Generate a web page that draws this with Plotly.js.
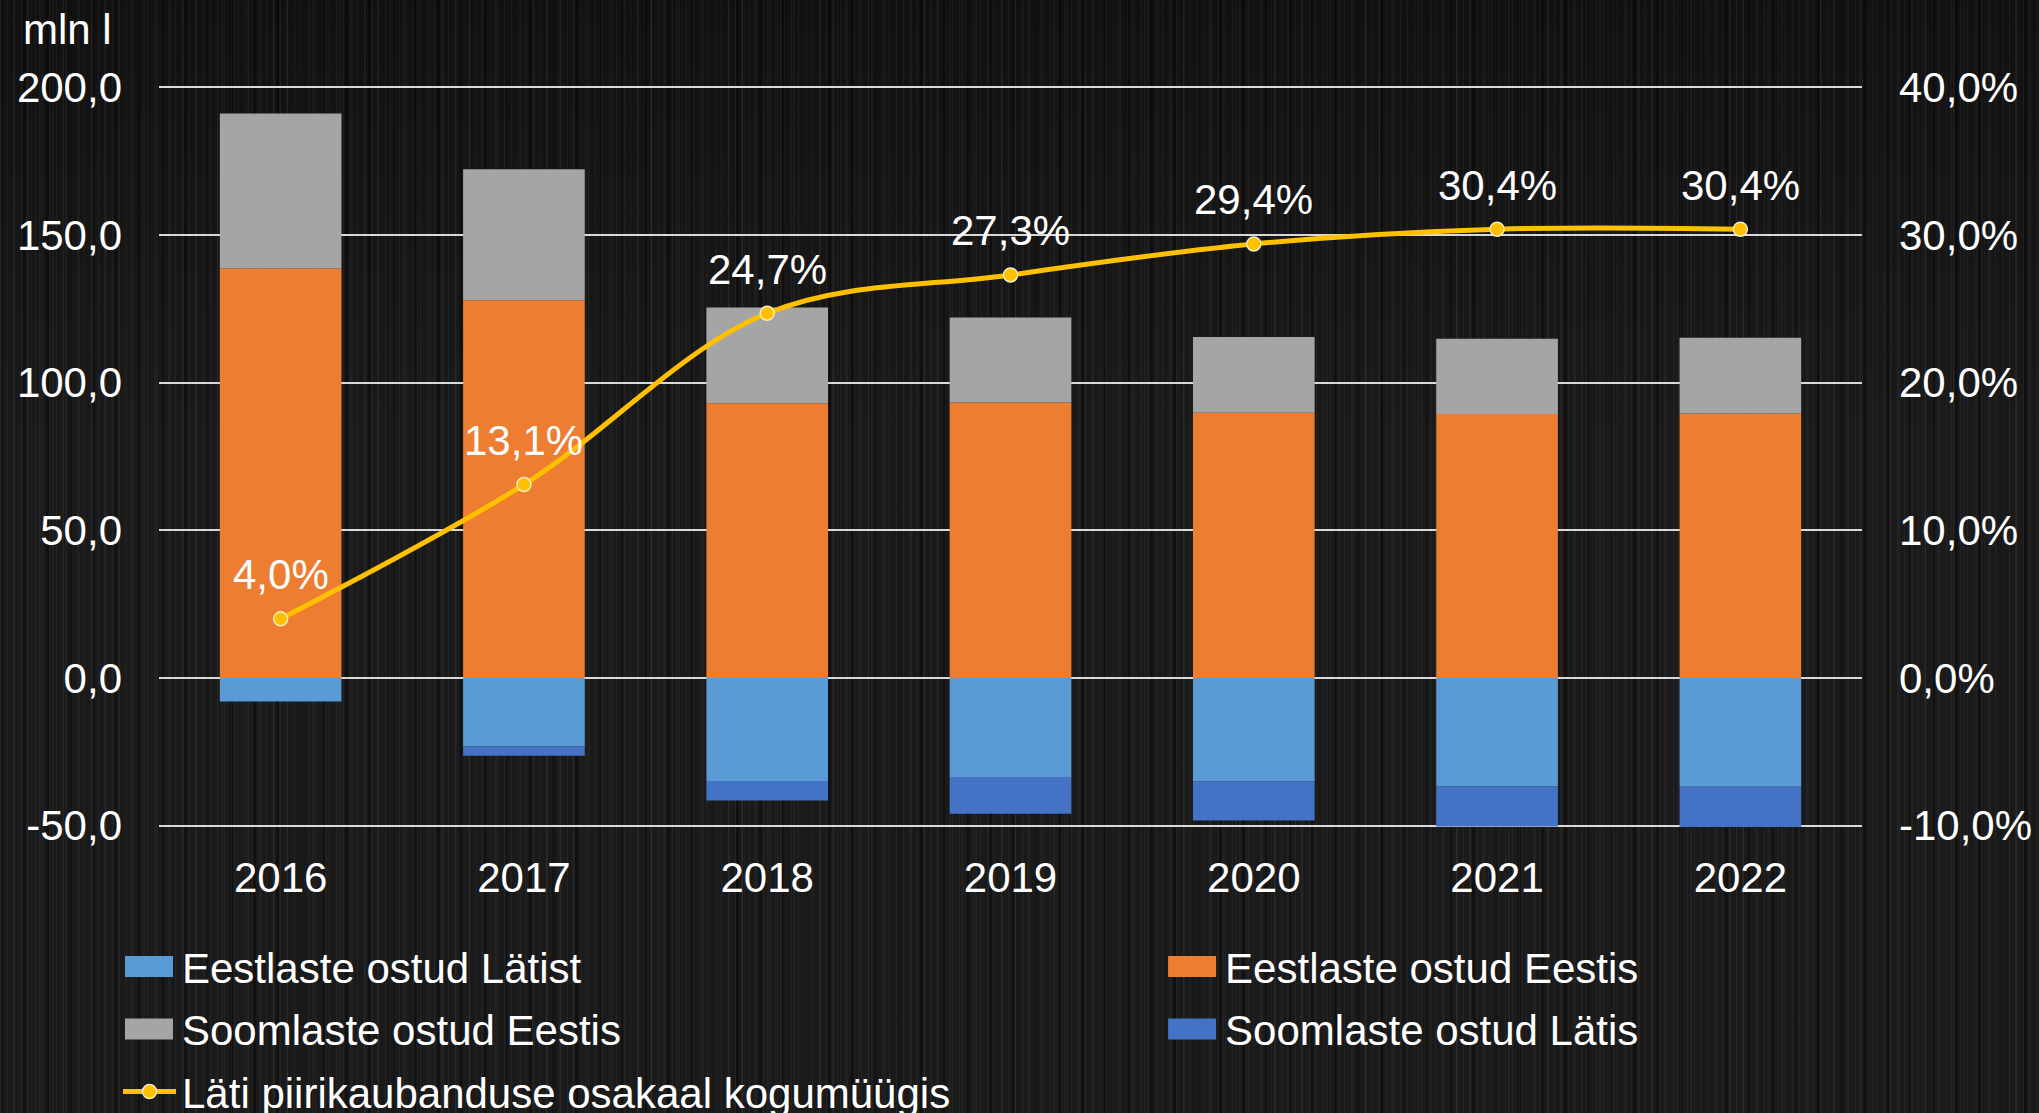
<!DOCTYPE html>
<html>
<head>
<meta charset="utf-8">
<script src="https://cdn.plot.ly/plotly-3.0.1.min.js"></script>
<style>
  html, body { margin: 0; padding: 0; background: #161616; }
  #chart {
    width: 2039px; height: 1113px;
    background-color: #1a1a1a;
    background-image:
      repeating-linear-gradient(90deg, rgba(255,255,255,0.045) 0 1px, transparent 1px 7px),
      repeating-linear-gradient(90deg, rgba(255,255,255,0.03) 0 2px, transparent 2px 13px),
      repeating-linear-gradient(90deg, rgba(0,0,0,0.35) 0 3px, transparent 3px 23px),
      repeating-linear-gradient(90deg, rgba(255,255,255,0.025) 0 1px, transparent 1px 31px),
      linear-gradient(180deg, rgba(0,0,0,0.35) 0%, rgba(0,0,0,0) 40%);
  }
</style>
</head>
<body>
<div id="chart"></div>
<script>
const years = ['2016', '2017', '2018', '2019', '2020', '2021', '2022'];

const eestlasteLatist = [-8.0, -23.2, -34.9, -33.6, -35.1, -36.8, -36.9];
const eestlasteEestis = [138.7, 127.9, 93.0, 93.3, 89.8, 89.4, 89.6];
const soomlasteEestis = [52.5, 44.4, 32.5, 28.8, 25.7, 25.5, 25.6];
const soomlasteLatis = [0, -3.2, -6.6, -12.4, -13.2, -13.5, -13.6];
const latiOsakaal = [4.0, 13.1, 24.7, 27.3, 29.4, 30.4, 30.4];

const leftTickVals = [-50, 0, 50, 100, 150, 200];
const leftTickText = ['-50,0', '0,0', '50,0', '100,0', '150,0', '200,0'];
const rightTickVals = [-10, 0, 10, 20, 30, 40];
const rightTickText = ['-10,0%', '0,0%', '10,0%', '20,0%', '30,0%', '40,0%'];

const names = [
  'Eestlaste ostud Lätist',
  'Eestlaste ostud Eestis',
  'Soomlaste ostud Eestis',
  'Soomlaste ostud Lätis',
  'Läti piirikaubanduse osakaal kogumüügis'
];

const FONT = 'Liberation Sans, Arial, Helvetica, sans-serif';
const WHITE = '#ffffff';

function barTrace(name, values, color, legend, group) {
  return {
    type: 'bar', name: name, x: years, y: values,
    marker: { color: color, line: { width: 0 } },
    legend: legend, legendgroup: group,
    hoverinfo: 'skip'
  };
}

const traces = [
  barTrace(names[0], eestlasteLatist, '#5B9BD5', 'legend', 'g1'),
  barTrace(names[1], eestlasteEestis, '#ED7D31', 'legend2', 'g2'),
  barTrace(names[2], soomlasteEestis, '#A5A5A5', 'legend', 'g3'),
  barTrace(names[3], soomlasteLatis, '#4472C4', 'legend2', 'g4'),
  {
    type: 'scatter', mode: 'lines+markers', name: names[4],
    x: years, y: latiOsakaal, yaxis: 'y2',
    line: { color: '#FFC000', width: 5, shape: 'spline', smoothing: 1 },
    marker: { color: '#FFC000', size: 14, line: { color: '#f3ecc2', width: 1.5 } },
    legend: 'legend', legendgroup: 'g5',
    cliponaxis: false,
    hoverinfo: 'skip'
  }
];

// data labels of the line, placed at each category (by index) on the right axis
const lineLabels = years.map((yr, i) => ({
  x: i, y: latiOsakaal[i], xref: 'x', yref: 'y2',
  text: latiOsakaal[i].toFixed(1).replace('.', ',') + '%',
  showarrow: false, xanchor: 'center', yanchor: 'middle', yshift: 44,
  font: { family: FONT, size: 42, color: WHITE }
}));

const legendCommon = {
  orientation: 'v',
  yanchor: 'top',
  xanchor: 'left',
  traceorder: 'grouped',
  tracegroupgap: 5,
  itemwidth: 60,
  bgcolor: 'rgba(0,0,0,0)',
  borderwidth: 0,
  font: { family: FONT, size: 42, color: WHITE }
};

const layout = {
  width: 2039, height: 1113,
  margin: { l: 159, r: 177, t: 86, b: 286, pad: 0, autoexpand: false },
  paper_bgcolor: 'rgba(0,0,0,0)',
  plot_bgcolor: 'rgba(0,0,0,0)',
  separators: ', ',
  barmode: 'relative',
  bargap: 0.5,
  font: { family: FONT, size: 42, color: WHITE },
  showlegend: true,
  xaxis: {
    type: 'category',
    categoryorder: 'array', categoryarray: years,
    range: [-0.5, years.length - 0.5], autorange: false,
    showgrid: false, zeroline: false, showline: false, ticks: '',
    tickfont: { family: FONT, size: 42, color: WHITE },
    ticklabelstandoff: 22
  },
  yaxis: {
    range: [-50.5, 200.5], autorange: false,
    tickmode: 'array', tickvals: leftTickVals, ticktext: leftTickText,
    showgrid: true, gridcolor: '#d9d9d9', gridwidth: 2,
    zeroline: true, zerolinecolor: '#d9d9d9', zerolinewidth: 2,
    showline: false, ticks: '',
    tickfont: { family: FONT, size: 42, color: WHITE },
    ticklabelstandoff: 36
  },
  yaxis2: {
    overlaying: 'y', side: 'right',
    range: [-10.1, 40.1], autorange: false,
    tickmode: 'array', tickvals: rightTickVals, ticktext: rightTickText,
    showgrid: false, zeroline: false, showline: false, ticks: '',
    tickfont: { family: FONT, size: 42, color: WHITE },
    ticklabelstandoff: 36
  },
  legend: Object.assign({}, legendCommon, { x: -0.0276, y: -0.1425 }),
  legend2: Object.assign({}, legendCommon, { x: 0.5849, y: -0.1425 }),
  annotations: [{
    text: 'mln l', xref: 'paper', yref: 'paper',
    x: -0.054, y: 1.0769, xanchor: 'center', yanchor: 'middle',
    showarrow: false,
    font: { family: FONT, size: 42, color: WHITE }
  }].concat(lineLabels)
};

Plotly.newPlot('chart', traces, layout, { displayModeBar: false, staticPlot: true }).then(function (gd) {
  // Enlarge legend symbols to match the reference's wide swatches
  gd.querySelectorAll('g.traces').forEach(function (g) {
    const d = g.__data__;
    const tr = d && d[0] && d[0].trace;
    if (!tr) return;
    if (tr.type === 'bar') {
      g.querySelectorAll('g.legendpoints path').forEach(function (p) {
        p.setAttribute('d', 'M-24,-10.5H24V10.5H-24Z');
        p.setAttribute('transform', 'translate(37,0)');
      });
    } else if (tr.type === 'scatter') {
      g.querySelectorAll('g.legendlines path').forEach(function (p) {
        p.setAttribute('d', 'M11,0h53');
      });
      g.querySelectorAll('g.legendpoints path').forEach(function (p) {
        p.setAttribute('transform', 'translate(37.5,0)');
      });
    }
  });
});
</script>
</body>
</html>
